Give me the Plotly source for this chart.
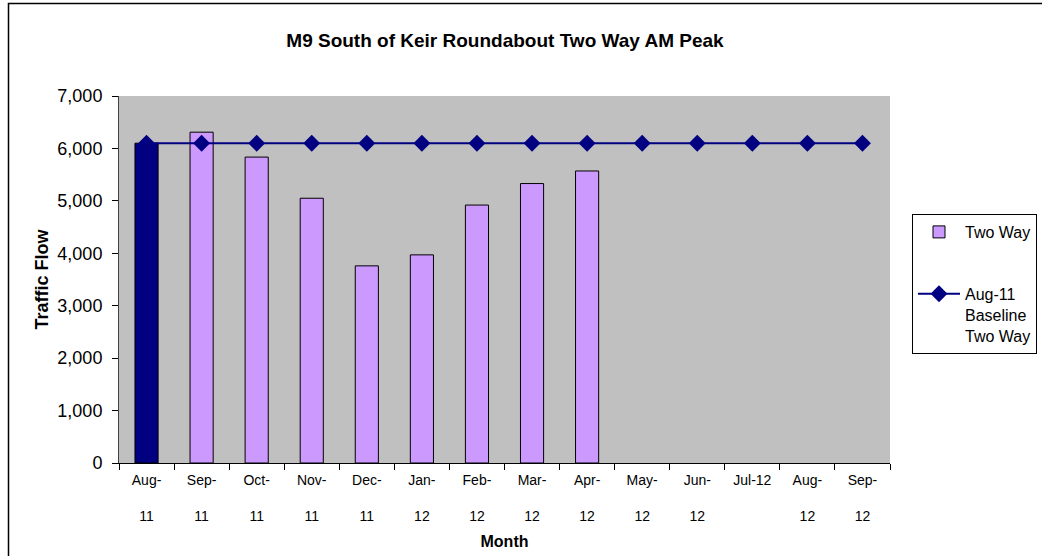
import plotly.graph_objects as go

# Monthly categories (two-row tick labels as in the original)
months = ["Aug-11", "Sep-11", "Oct-11", "Nov-11", "Dec-11", "Jan-12", "Feb-12",
          "Mar-12", "Apr-12", "May-12", "Jun-12", "Jul-12", "Aug-12", "Sep-12"]
tick_text = ["Aug-<br><br>11", "Sep-<br><br>11", "Oct-<br><br>11", "Nov-<br><br>11",
             "Dec-<br><br>11", "Jan-<br><br>12", "Feb-<br><br>12", "Mar-<br><br>12",
             "Apr-<br><br>12", "May-<br><br>12", "Jun-<br><br>12", "Jul-12",
             "Aug-<br><br>12", "Sep-<br><br>12"]

# Two way AM peak flow (only recorded up to Apr-12)
two_way = [6100, 6310, 5835, 5050, 3760, 3970, 4920, 5330, 5570]

# Aug-11 baseline, carried across every month
baseline = [6100] * len(months)

NAVY = "#000080"
LILAC = "#CC99FF"
FONT = "Liberation Sans, Arial, sans-serif"
NARROW = "Liberation Sans Narrow, Arial Narrow, Liberation Sans, sans-serif"

# plot area pixel box, used for placing the legend and the outer border
W, H = 1042, 556
L, R, T, B = 119, 152, 96, 93
pw, ph = W - L - R, H - T - B

fig = go.Figure()

# Baseline month bar is drawn in navy, the rest in lilac
fig.add_trace(go.Bar(
    x=months[:1], y=two_way[:1],
    marker=dict(color=NAVY, line=dict(color="black", width=1)),
    width=0.42, showlegend=False, hoverinfo="skip",
))

fig.add_trace(go.Bar(
    x=months[1:len(two_way)], y=two_way[1:],
    name="Two Way", legendgroup="a",
    marker=dict(color=LILAC, line=dict(color="black", width=1)),
    width=0.42,
))

fig.add_trace(go.Scatter(
    x=months, y=baseline,
    mode="lines+markers",
    name="Aug-11<br>Baseline<br>Two Way", legendgroup="b",
    line=dict(color=NAVY, width=2),
    marker=dict(symbol="diamond", size=13, color=NAVY),
))

fig.update_layout(
    width=W, height=H,
    margin=dict(l=L, r=R, t=T, b=B, autoexpand=False),
    paper_bgcolor="white",
    plot_bgcolor="#C0C0C0",
    barmode="overlay",
    font=dict(family=FONT, size=13, color="black"),
    title=dict(
        text="<b>M9 South of Keir Roundabout Two Way AM Peak</b>",
        x=505 / W, xanchor="center", y=1 - 40 / H, yanchor="middle",
        font=dict(size=19),
    ),
    legend=dict(
        x=(912 - L) / pw, xanchor="left",
        y=(H - B - 214) / ph, yanchor="top",
        bgcolor="white", bordercolor="black", borderwidth=1,
        traceorder="grouped", tracegroupgap=38,
        valign="top",
        font=dict(size=16),
        itemwidth=42,
    ),
    shapes=[dict(
        type="rect", xref="paper", yref="paper",
        x0=(8.5 - L) / pw, x1=(W + 5 - L) / pw,
        y0=(H - B - (H + 5)) / ph, y1=(H - B - 3.5) / ph,
        line=dict(color="black", width=1.5),
    )],
)

fig.update_xaxes(
    type="category",
    tickvals=months, ticktext=tick_text,
    range=[-0.5, len(months) - 0.5],
    showgrid=False, automargin=False,
    showline=True, linecolor="black", linewidth=1,
    ticks="outside", tickson="boundaries", ticklen=6, tickcolor="black",
    ticklabelstandoff=4,
    tickfont=dict(family=NARROW, size=14),
    title=dict(text="<b>Month</b>", font=dict(size=16), standoff=12),
)

fig.update_yaxes(
    range=[0, 7000], dtick=1000, tickformat=",",
    showgrid=False, zeroline=False, automargin=False,
    showline=True, linecolor="#404040", linewidth=1,
    ticks="outside", ticklen=6, tickcolor="black",
    ticklabelstandoff=6,
    tickfont=dict(size=18),
    title=dict(text="<b>Traffic Flow</b>", font=dict(size=18), standoff=4),
)

# drop the default 8px page margin so the chart sits at the window origin
fig.write_html(
    "out.html",
    config={"displayModeBar": False},
    post_script="document.body.style.margin='0';",
)
